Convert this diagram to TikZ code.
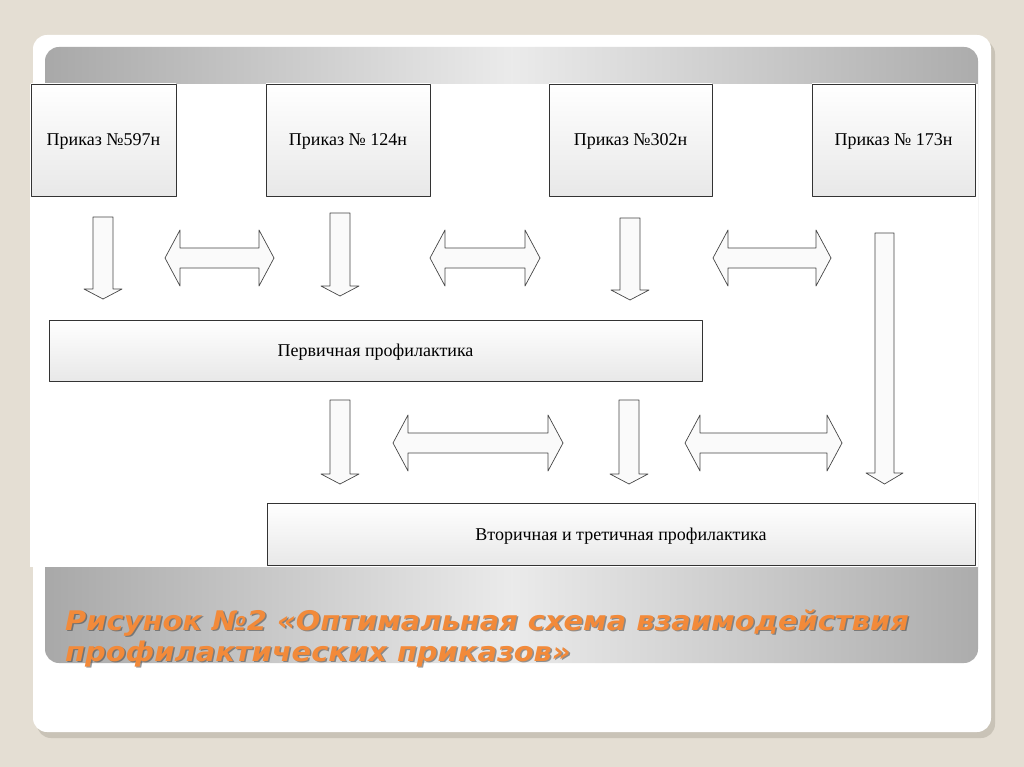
\documentclass[tikz,border=0pt]{standalone}
\usepackage{fontspec}
\setmainfont{Liberation Serif}
\newfontfamily\capfont{DejaVu Sans}

\definecolor{fon}{HTML}{E4DED3}
\definecolor{ten}{HTML}{C9C3B7}
\definecolor{oranzh}{HTML}{F28A3A}

\begin{document}
\begin{tikzpicture}[
        x = 1pt, y = -1pt,
        line join=round,
        prikaz/.style = {draw=gray!40!black, line width=0.8pt, top color=white, bottom color=gray!18,
                         minimum height=112, inner sep=0pt, text depth=0pt, font=\fontsize{18}{21}\selectfont},
        uroven/.style = {prikaz, minimum height=62},
        blockarrow/.style = {draw=gray!55!black, line width=0.7pt, fill=gray!4},
        podpis/.style = {anchor=base west, inner sep=0pt, text=oranzh, xscale=1.07,
                         font=\capfont\bfseries\itshape\fontsize{27}{27}\selectfont}
    ]

    \useasboundingbox (0,0) rectangle (1024,767);

    % fon, kartochka i seraya panel
    \fill[fon] (0,0) rectangle (1024,767);
    \fill[ten, rounded corners=14] (37,40) rectangle (995,738);
    \fill[white, rounded corners=14] (33,35) rectangle (991,732);
    \shade[rounded corners=14, left color=gray!68, right color=gray!65, middle color=gray!16]
        (45,47) rectangle (978,663);
    \fill[white] (30,84) rectangle (978,567);

    % prikazy
    \node[prikaz, minimum width=145] (p597) at (103.5,140) {Приказ №597н};
    \node[prikaz, minimum width=164] (p124) at (348,140)   {Приказ № 124н};
    \node[prikaz, minimum width=163] (p302) at (630.5,140) {Приказ №302н};
    \node[prikaz, minimum width=163] (p173) at (893.5,140) {Приказ № 173н};

    % urovni profilaktiki
    \node[uroven, minimum width=653, minimum height=61] (perv) at (375.5,350.5) {Первичная профилактика};
    \node[uroven, minimum width=708] (vtor) at (621,534) {Вторичная и третичная профилактика};

    % strelki vniz: x / verh / ostrie
    \foreach \x/\ya/\yb in {103/217/299, 340/213/296, 630/218/300, 340/400/484, 629/400/484}
        \draw[blockarrow] (\x-10,\ya) -- (\x+10,\ya) -- (\x+10,\yb-10) -- (\x+19,\yb-10)
            -- (\x,\yb) -- (\x-19,\yb-10) -- (\x-10,\yb-10) -- cycle;
    \draw[blockarrow] (875,233) -- (894,233) -- (894,473) -- (903,473)
        -- (884.5,484) -- (866,473) -- (875,473) -- cycle;

    % dvoinye strelki
    \foreach \xa/\xb/\y in {165/274/258, 430/540/258, 713/831/258, 393/563/443, 685/842/443}
        \draw[blockarrow] (\xa,\y) -- (\xa+15,\y-28) -- (\xa+15,\y-10) -- (\xb-15,\y-10)
            -- (\xb-15,\y-28) -- (\xb,\y) -- (\xb-15,\y+28) -- (\xb-15,\y+10)
            -- (\xa+15,\y+10) -- (\xa+15,\y+28) -- cycle;

    % podpis
    \node[podpis, text=gray!45!black, opacity=0.5] at (66.5,631.5) {Рисунок №2 «Оптимальная схема взаимодействия};
    \node[podpis, text=gray!45!black, opacity=0.5] at (66.5,662.5) {профилактических приказов»};
    \node[podpis] (cap1) at (65,630) {Рисунок №2 «Оптимальная схема взаимодействия};
    \node[podpis] (cap2) at (65,661) {профилактических приказов»};

\end{tikzpicture}
\end{document}
